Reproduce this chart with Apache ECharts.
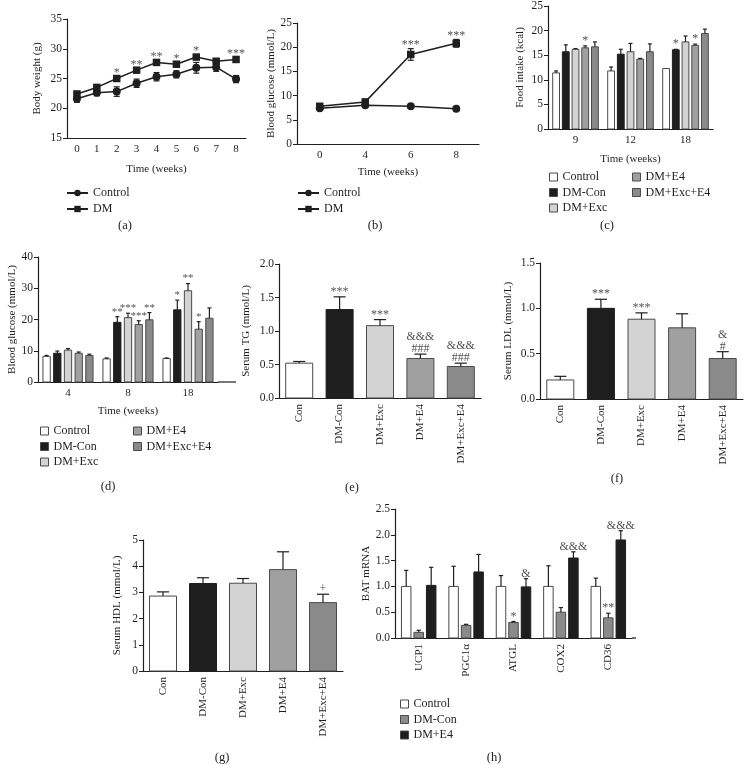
<!DOCTYPE html>
<html><head><meta charset="utf-8">
<script src="https://cdn.jsdelivr.net/npm/echarts@6/dist/echarts.min.js"></script>
<style>html,body{margin:0;padding:0;background:#fff}#c{width:744px;height:778px}</style>
</head><body><div id="c"></div>
<script>
// ---------- DATA ----------
// (a) body weight
const weeksA = ['0','1','2','3','4','5','6','7','8'];
const bwControl = [21.6, 22.6, 22.8, 24.2, 25.3, 25.7, 26.8, 26.9, 24.9];
const bwControlSem = [0.6, 0.5, 0.8, 0.7, 0.7, 0.6, 0.9, 0.7, 0.6];
const bwDM = [22.4, 23.5, 25.0, 26.4, 27.7, 27.4, 28.6, 27.9, 28.2];
const bwDMSem = [0.3, 0.3, 0.3, 0.3, 0.3, 0.3, 0.3, 0.3, 0.3];
const bwSig = ['', '', '*', '**', '**', '*', '*', '', '***'];
// (b) blood glucose (line)
const weeksB = ['0','4','6','8'];
const bgControl = [7.4, 8.0, 7.8, 7.3];
const bgControlSem = [0.3, 0.2, 0.3, 0.3];
const bgDM = [7.8, 8.7, 18.5, 20.8];
const bgDMSem = [0.4, 0.3, 1.2, 0.8];
const bgSig = ['', '', '***', '***'];
// (c) food intake
const foodWeeks = ['9','12','18'];
const foodControl = [11.4, 11.8, 12.3];
const foodControlSem = [0.4, 0.8, 0];
const foodDMCon = [15.7, 15.2, 16.1];
const foodDMConSem = [1.4, 1.0, 0.1];
const foodDMConSig = ['', '', '*'];
const foodDMExc = [16.2, 15.7, 17.7];
const foodDMExcSem = [0.15, 1.7, 1.2];
const foodDME4 = [16.5, 14.2, 17.0];
const foodDME4Sem = [0.4, 0.15, 0.25];
const foodDME4Sig = ['*', '', '*'];
const foodDMExcE4 = [16.7, 15.7, 19.4];
const foodDMExcE4Sem = [1.0, 1.6, 0.9];
// (d) blood glucose (bars)
const glucWeeks = ['4','8','18'];
const glucControl = [8.2, 7.4, 7.5];
const glucControlSem = [0.3, 0.3, 0.2];
const glucDMCon = [9.2, 19.1, 23.1];
const glucDMConSem = [0.7, 1.8, 3.1];
const glucDMConSig = ['', '**', '*'];
const glucDMExc = [10.2, 20.6, 29.2];
const glucDMExcSem = [0.5, 1.4, 2.3];
const glucDMExcSig = ['', '***', '**'];
const glucDME4 = [9.2, 18.4, 16.9];
const glucDME4Sem = [0.4, 1.2, 2.4];
const glucDME4Sig = ['', '***', '*'];
const glucDMExcE4 = [8.5, 19.9, 20.4];
const glucDMExcE4Sem = [0.4, 2.3, 3.3];
const glucDMExcE4Sig = ['', '**', ''];
// (e)(f)(g) serum lipids
const serumGroups = ['Con','DM-Con','DM+Exc','DM+E4','DM+Exc+E4'];
const tgValues = [0.52, 1.32, 1.08, 0.59, 0.47];
const tgSem = [0.025, 0.19, 0.09, 0.065, 0.05];
const tgSig = ['', '***', '***', '&&&\n###', '&&&\n###'];
const ldlValues = [0.21, 1.00, 0.88, 0.785, 0.447];
const ldlSem = [0.04, 0.10, 0.07, 0.155, 0.075];
const ldlSig = ['', '***', '***', '', '&\n#'];
const hdlValues = [2.86, 3.34, 3.35, 3.87, 2.61];
const hdlSem = [0.16, 0.22, 0.18, 0.68, 0.32];
const hdlSig = ['', '', '', '', '+'];
// (h) BAT mRNA
const genes = ['UCP1','PGC1\u03b1','ATGL','COX2','CD36'];
const batControl = [1.0, 1.0, 1.0, 1.0, 1.0];
const batControlSem = [0.31, 0.39, 0.21, 0.40, 0.16];
const batDMCon = [0.11, 0.245, 0.30, 0.50, 0.39];
const batDMConSem = [0.04, 0.02, 0.02, 0.09, 0.09];
const batDMConSig = ['', '', '*', '', '**'];
const batDME4 = [1.02, 1.28, 0.99, 1.55, 1.90];
const batDME4Sem = [0.35, 0.34, 0.16, 0.12, 0.18];
const batDME4Sig = ['', '', '&', '&&&', '&&&'];

// ---------- STYLE ----------
const FONT = "Liberation Serif";
const INK = '#1f1f1f';
const C_WHITE = '#ffffff', C_BLACK = '#1e1e1e', C_LIGHT = '#d3d3d3', C_MID = '#a0a0a0', C_DARK = '#8a8a8a';
const EDGE = '#4a4a4a';

const grids = [], xAxes = [], yAxes = [], series = [], legends = [], graphics = [];
const txt = (size) => ({color: INK, fontFamily: FONT, fontSize: size, fontWeight: 'normal'});

function addPanel(g) {
  const gi = grids.length;
  grids.push({left: g.left, top: g.top, width: g.width, height: g.height});
  xAxes.push({gridIndex: gi, type: 'category', data: g.cats, boundaryGap: true,
    axisLine: {lineStyle: {color: INK, width: 1.2}},
    axisTick: {alignWithLabel: true, length: 4, lineStyle: {color: INK, width: 1}},
    axisLabel: Object.assign(txt(11), {margin: 6, rotate: g.rotate || 0, interval: 0}),
    name: g.xname || '', nameLocation: 'middle', nameGap: g.xgap || 24, nameTextStyle: txt(11)});
  yAxes.push({gridIndex: gi, type: 'value', min: g.ymin, max: g.ymax, interval: g.yint,
    axisLine: {show: true, lineStyle: {color: INK, width: 1.2}},
    axisTick: {show: true, length: 4, lineStyle: {color: INK, width: 1}},
    splitLine: {show: false},
    axisLabel: Object.assign(txt(11.5), {margin: 5, formatter: g.yfmt}),
    name: g.yname, nameLocation: 'middle', nameGap: g.ygap, nameTextStyle: txt(11)});
  return gi;
}

// significance marks: label-only scatter points placed at (category, mean + sem)
function starSeries(gi, vals, sems, sigs, offset, dist, size) {
  const data = [];
  sigs.forEach(function (s, i) { if (s) data.push({value: [i, vals[i] + sems[i]], sig: s}); });
  return {type: 'scatter', xAxisIndex: gi, yAxisIndex: gi, symbolSize: 0, silent: true, clip: false, z: 6,
    itemStyle: {color: INK}, data: data,
    label: {show: true, position: 'top', distance: dist, offset: [offset, 0], color: INK, fontFamily: FONT,
      fontSize: size || 12, lineHeight: 12, fontWeight: 'normal', formatter: function (p) { return p.data.sig; }}};
}

function barSeries(gi, name, vals, sems, offset, width, fill, stroke, only) {
  let data = vals.map((v, i) => [i, v, sems[i]]);
  if (only !== undefined) data = data.filter(d => d[0] === only);
  return {
    type: 'custom', name: name, xAxisIndex: gi, yAxisIndex: gi, clip: false, silent: true,
    data: data, encode: {x: 0, y: 1},
    itemStyle: {color: fill, borderColor: stroke, borderWidth: 1},
    renderItem: function (params, api) {
      const i = api.value(0), v = api.value(1), e = api.value(2);
      const top = api.coord([i, v]), base = api.coord([i, 0]), et = api.coord([i, v + e]);
      const xc = top[0] + offset;
      const cw = Math.max(4, width * 0.45);
      const ch = [{type: 'rect', shape: {x: xc - width / 2, y: top[1], width: width, height: base[1] - top[1]},
        style: {fill: fill, stroke: stroke, lineWidth: 1}}];
      if (e > 0) {
        ch.push({type: 'line', shape: {x1: xc, y1: top[1], x2: xc, y2: et[1]}, style: {stroke: INK, lineWidth: 1.2}});
        ch.push({type: 'line', shape: {x1: xc - cw / 2, y1: et[1], x2: xc + cw / 2, y2: et[1]}, style: {stroke: INK, lineWidth: 1.2}});
      }
      return {type: 'group', children: ch};
    }
  };
}

function lineErr(gi, vals, sems, capW) {
  return {
    type: 'custom', xAxisIndex: gi, yAxisIndex: gi, clip: false, silent: true, z: 2,
    data: vals.map((v, i) => [i, v, sems[i]]), encode: {x: 0, y: 1},
    renderItem: function (params, api) {
      const i = api.value(0), v = api.value(1), e = api.value(2);
      const hi = api.coord([i, v + e]), lo = api.coord([i, v - e]);
      const x = hi[0];
      const st = {stroke: INK, lineWidth: 1.2};
      return {type: 'group', children: [
        {type: 'line', shape: {x1: x, y1: lo[1], x2: x, y2: hi[1]}, style: st},
        {type: 'line', shape: {x1: x - capW / 2, y1: hi[1], x2: x + capW / 2, y2: hi[1]}, style: st},
        {type: 'line', shape: {x1: x - capW / 2, y1: lo[1], x2: x + capW / 2, y2: lo[1]}, style: st}]};
    }
  };
}

function lineSeries(gi, name, vals, symbol) {
  return {type: 'line', name: name, xAxisIndex: gi, yAxisIndex: gi, data: vals, symbol: symbol,
    symbolSize: symbol === 'rect' ? 7.5 : 8, showAllSymbol: true, z: 3, silent: true,
    lineStyle: {color: INK, width: 1.5}, itemStyle: {color: INK}};
}

const stripName = (n) => n.split('|')[1];
function addLegend(left, top, items, isLine) {
  const l = {left: left, top: top, orient: 'vertical', padding: 0, selectedMode: false,
    itemWidth: isLine ? 21 : 8, itemHeight: 8, itemGap: isLine ? 4 : 3.5,
    formatter: stripName, textStyle: Object.assign(txt(12), {lineHeight: 12}),
    data: items};
  if (!isLine) l.icon = 'rect';
  legends.push(l);
}
const legItem = (name, fill) => ({name: name, itemStyle: {color: fill, borderColor: EDGE, borderWidth: 1}});

function panelLabel(x, y, t) {
  graphics.push({type: 'text', x: x, y: y, style: {text: t, fill: INK, fontSize: 12.5, fontFamily: FONT,
    align: 'center', verticalAlign: 'middle'}});
}

// ---------- PANEL (a) ----------
let g = addPanel({left: 67, top: 19, width: 179, height: 119, cats: weeksA, ymin: 15, ymax: 35, yint: 5,
  yname: 'Body weight (g)', ygap: 24, xname: 'Time (weeks)', xgap: 26});
series.push(lineErr(g, bwControl, bwControlSem, 6));
series.push(lineErr(g, bwDM, bwDMSem, 6));
series.push(lineSeries(g, 'a|Control', bwControl, 'circle'));
series.push(lineSeries(g, 'a|DM', bwDM, 'rect'));
series.push(starSeries(g, bwDM, bwDMSem, bwSig, 0, -2));
addLegend(66, 187, ['a|Control', 'a|DM'], true);
panelLabel(125, 226, '(a)');

// ---------- PANEL (b) ----------
g = addPanel({left: 297, top: 23, width: 182, height: 121, cats: weeksB, ymin: 0, ymax: 25, yint: 5,
  yname: 'Blood glucose (mmol/L)', ygap: 20, xname: 'Time (weeks)', xgap: 23});
series.push(lineErr(g, bgControl, bgControlSem, 6));
series.push(lineErr(g, bgDM, bgDMSem, 6));
series.push(lineSeries(g, 'b|Control', bgControl, 'circle'));
series.push(lineSeries(g, 'b|DM', bgDM, 'rect'));
series.push(starSeries(g, bgDM, bgDMSem, bgSig, 0, -2));
addLegend(297, 187, ['b|Control', 'b|DM'], true);
panelLabel(375, 226, '(b)');

// ---------- PANEL (c) ----------
g = addPanel({left: 548, top: 4, width: 165, height: 125, cats: foodWeeks, ymin: 0, ymax: 25, yint: 5,
  yname: 'Food intake (kcal)', ygap: 22, xname: 'Time (weeks)', xgap: 25});
{
  const p = 9.7, w = 6.8;
  series.push(barSeries(g, 'c|Control', foodControl, foodControlSem, -2 * p, w, C_WHITE, EDGE));
  series.push(barSeries(g, 'c|DM-Con', foodDMCon, foodDMConSem, -p, w, C_BLACK, C_BLACK));
  series.push(barSeries(g, 'c|DM+Exc', foodDMExc, foodDMExcSem, 0, w, C_LIGHT, EDGE));
  series.push(barSeries(g, 'c|DM+E4', foodDME4, foodDME4Sem, p, w, C_MID, EDGE));
  series.push(barSeries(g, 'c|DM+Exc+E4', foodDMExcE4, foodDMExcE4Sem, 2 * p, w, C_DARK, EDGE));
  series.push(starSeries(g, foodDMCon, foodDMConSem, foodDMConSig, -p, -1));
  series.push(starSeries(g, foodDME4, foodDME4Sem, foodDME4Sig, p, -1));
}
addLegend(549, 171, [legItem('c|Control', C_WHITE), legItem('c|DM-Con', C_BLACK), legItem('c|DM+Exc', C_LIGHT)]);
addLegend(632, 171, [legItem('c|DM+E4', C_MID), legItem('c|DM+Exc+E4', C_DARK)]);
panelLabel(607, 226, '(c)');

// ---------- PANEL (d) ----------
g = addPanel({left: 38, top: 257, width: 180, height: 125, cats: glucWeeks, ymin: 0, ymax: 40, yint: 10,
  yname: 'Blood glucose (mmol/L)', ygap: 20, xname: 'Time (weeks)', xgap: 24});
{
  const p = 10.7, w = 7.3;
  series.push(barSeries(g, 'd|Control', glucControl, glucControlSem, -2 * p, w, C_WHITE, EDGE));
  series.push(barSeries(g, 'd|DM-Con', glucDMCon, glucDMConSem, -p, w, C_BLACK, C_BLACK));
  series.push(barSeries(g, 'd|DM+Exc', glucDMExc, glucDMExcSem, 0, w, C_LIGHT, EDGE));
  series.push(barSeries(g, 'd|DM+E4', glucDME4, glucDME4Sem, p, w, C_MID, EDGE));
  series.push(barSeries(g, 'd|DM+Exc+E4', glucDMExcE4, glucDMExcE4Sem, 2 * p, w, C_DARK, EDGE));
  series.push(starSeries(g, glucDMCon, glucDMConSem, glucDMConSig, -p, -1, 11));
  series.push(starSeries(g, glucDMExc, glucDMExcSem, glucDMExcSig, 0, -1, 11));
  series.push(starSeries(g, glucDME4, glucDME4Sem, glucDME4Sig, p, -1, 11));
  series.push(starSeries(g, glucDMExcE4, glucDMExcE4Sem, glucDMExcE4Sig, 2 * p, -1, 11));
}
graphics.push({type: 'line', shape: {x1: 218, y1: 382, x2: 236, y2: 382}, style: {stroke: INK, lineWidth: 1.2}});
addLegend(40, 425, [legItem('d|Control', C_WHITE), legItem('d|DM-Con', C_BLACK), legItem('d|DM+Exc', C_LIGHT)]);
addLegend(133, 425, [legItem('d|DM+E4', C_MID), legItem('d|DM+Exc+E4', C_DARK)]);
panelLabel(108, 487, '(d)');

// ---------- PANEL (e)(f)(g) ----------
const serumFills = [C_WHITE, C_BLACK, C_LIGHT, C_MID, C_DARK];
function singleBars(gi, prefix, vals, sems, sigs, w) {
  vals.forEach(function (v, k) {
    series.push(barSeries(gi, prefix + '|' + serumGroups[k], vals, sems, 0, w, serumFills[k], k === 1 ? C_BLACK : EDGE, k));
  });
  series.push(starSeries(gi, vals, sems, sigs, 0, -1));
}
const fmt1 = (v) => v.toFixed(1);

g = addPanel({left: 279, top: 264, width: 202, height: 134, cats: serumGroups, ymin: 0, ymax: 2, yint: 0.5,
  yfmt: fmt1, yname: 'Serum TG (mmol/L)', ygap: 27, rotate: 90});
singleBars(g, 'e', tgValues, tgSem, tgSig, 27);
panelLabel(352, 488, '(e)');

g = addPanel({left: 540, top: 263, width: 203, height: 136, cats: serumGroups, ymin: 0, ymax: 1.5, yint: 0.5,
  yfmt: fmt1, yname: 'Serum LDL (mmol/L)', ygap: 26, rotate: 90});
singleBars(g, 'f', ldlValues, ldlSem, ldlSig, 27);
panelLabel(617, 479, '(f)');

g = addPanel({left: 143, top: 540, width: 200, height: 131, cats: serumGroups, ymin: 0, ymax: 5, yint: 1,
  yname: 'Serum HDL (mmol/L)', ygap: 20, rotate: 90});
singleBars(g, 'g', hdlValues, hdlSem, hdlSig, 27);
panelLabel(222, 758, '(g)');

// ---------- PANEL (h) ----------
g = addPanel({left: 395, top: 509, width: 237, height: 129, cats: genes, ymin: 0, ymax: 2.5, yint: 0.5,
  yfmt: fmt1, yname: 'BAT mRNA', ygap: 22, rotate: 90});
{
  const p = 12.5, w = 9.5;
  series.push(barSeries(g, 'h|Control', batControl, batControlSem, -p, w, C_WHITE, EDGE));
  series.push(barSeries(g, 'h|DM-Con', batDMCon, batDMConSem, 0, w, C_DARK, EDGE));
  series.push(barSeries(g, 'h|DM+E4', batDME4, batDME4Sem, p, w, C_BLACK, C_BLACK));
  series.push(starSeries(g, batDMCon, batDMConSem, batDMConSig, 0, -1));
  series.push(starSeries(g, batDME4, batDME4Sem, batDME4Sig, p, -1));
}
graphics.push({type: 'line', shape: {x1: 632, y1: 638, x2: 636, y2: 638}, style: {stroke: INK, lineWidth: 1.2}});
addLegend(400, 698, [legItem('h|Control', C_WHITE), legItem('h|DM-Con', C_DARK), legItem('h|DM+E4', C_BLACK)]);
panelLabel(494, 758, '(h)');

const chart = echarts.init(document.getElementById('c'), null, {renderer: 'canvas'});
chart.setOption({
  animation: false, backgroundColor: '#fff',
  textStyle: {fontFamily: FONT, fontWeight: 'normal'},
  grid: grids, xAxis: xAxes, yAxis: yAxes, series: series, legend: legends, graphic: graphics
});
</script>
</body></html>
